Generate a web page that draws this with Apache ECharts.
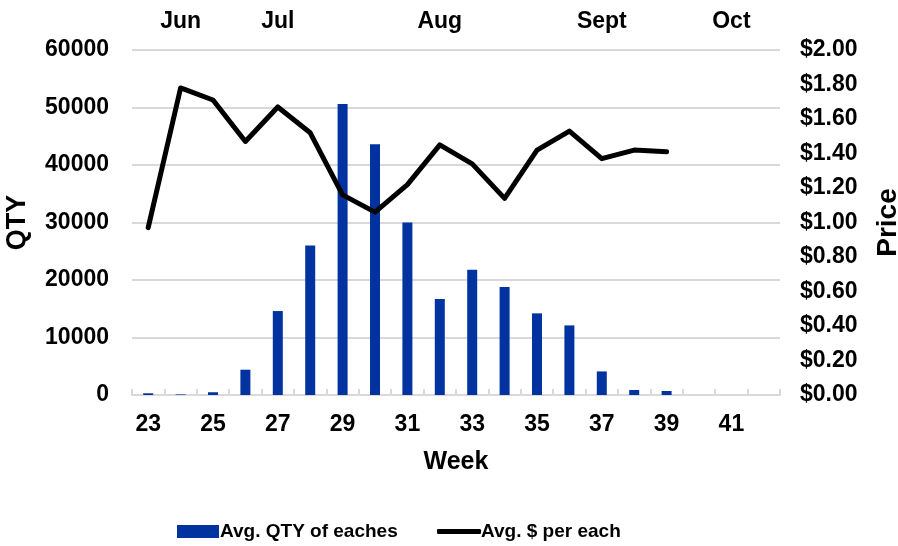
<!DOCTYPE html>
<html>
<head>
<meta charset="utf-8">
<script src="https://cdn.jsdelivr.net/npm/echarts@6/dist/echarts.min.js"></script>
<style>html,body{margin:0;padding:0;background:#fff}#c{width:898px;height:546px}</style>
</head>
<body>
<div id="c"></div>
<script>
const weeks = ['23','24','25','26','27','28','29','30','31','32','33','34','35','36','37','38','39','40','41','42'];
const months = {'24':'Jun','27':'Jul','32':'Aug','37':'Sept','41':'Oct'};
const qty = [300, 100, 480, 4400, 14600, 26000, 50600, 43600, 30000, 16700, 21800, 18800, 14200, 12100, 4100, 870, 700, null, null, null];
const price = [0.97, 1.78, 1.71, 1.47, 1.67, 1.52, 1.16, 1.06, 1.22, 1.45, 1.34, 1.14, 1.42, 1.53, 1.37, 1.42, 1.41, null, null, null];

const FONT = '"Liberation Sans", Arial, sans-serif';
const lbl = { fontFamily: FONT, fontWeight: 'bold', fontSize: 23, color: '#000' };
const chart = echarts.init(document.getElementById('c'));
chart.setOption({
  animation: false,
  textStyle: { fontFamily: FONT, fontWeight: 'bold', color: '#000' },
  grid: { left: 132, right: 118, top: 50, bottom: 151, containLabel: false, outerBoundsMode: 'none' },
  legend: [
    {
      left: 172, top: 517,
      itemWidth: 42, itemHeight: 13,
      textStyle: { fontFamily: FONT, fontWeight: 'bold', fontSize: 19, color: '#000', padding: [0, 0, 0, -4] },
      data: [{ name: 'Avg. QTY of eaches', icon: 'rect' }]
    },
    {
      left: 432, top: 517,
      itemWidth: 44, itemHeight: 5,
      textStyle: { fontFamily: FONT, fontWeight: 'bold', fontSize: 19, color: '#000', padding: [0, 0, 0, -5] },
      data: [{ name: 'Avg. $ per each', icon: 'roundRect' }]
    }
  ],
  xAxis: [
    {
      type: 'category', data: weeks, position: 'bottom',
      name: 'Week', nameLocation: 'middle', nameGap: 55,
      nameTextStyle: { fontFamily: FONT, fontWeight: 'bold', fontSize: 25, color: '#000' },
      axisLine: { lineStyle: { color: '#d9d9d9', width: 2 } },
      axisTick: { show: false },
      axisLabel: Object.assign({ interval: 1, margin: 18 }, lbl)
    },
    {
      type: 'category', data: weeks, position: 'top',
      axisLine: { lineStyle: { color: '#d9d9d9', width: 2 } },
      axisTick: { show: true, length: 6, interval: 0, lineStyle: { color: '#d9d9d9', width: 2 } },
      axisLabel: Object.assign({ interval: 0, margin: 17, formatter: function (v) { return months[v] || ''; } }, lbl)
    }
  ],
  yAxis: [
    {
      type: 'value', min: 0, max: 60000, interval: 10000, position: 'left',
      name: 'QTY', nameLocation: 'middle', nameGap: 101,
      nameTextStyle: { fontFamily: FONT, fontWeight: 'bold', fontSize: 27, color: '#000' },
      axisLine: { show: false }, axisTick: { show: false },
      axisLabel: Object.assign({ margin: 23, formatter: function (v) { return String(v); } }, lbl),
      splitLine: { lineStyle: { color: '#d9d9d9', width: 2 } }
    },
    {
      type: 'value', min: 0, max: 2, interval: 0.2, position: 'right',
      name: 'Price', nameLocation: 'middle', nameGap: 94,
      nameTextStyle: { fontFamily: FONT, fontWeight: 'bold', fontSize: 28, color: '#000' },
      axisLine: { show: false }, axisTick: { show: false },
      axisLabel: Object.assign({ margin: 20, formatter: function (v) { return '$' + v.toFixed(2); } }, lbl),
      splitLine: { show: false }
    }
  ],
  series: [
    {
      name: 'Avg. QTY of eaches', type: 'bar', data: qty,
      xAxisIndex: 0, yAxisIndex: 0, barWidth: 10,
      itemStyle: { color: '#0033a0' }
    },
    {
      name: 'Avg. $ per each', type: 'line', data: price,
      xAxisIndex: 0, yAxisIndex: 1, symbol: 'none',
      lineStyle: { color: '#000', width: 5, join: 'round', cap: 'round' },
      itemStyle: { color: '#000' }
    }
  ]
});
</script>
</body>
</html>
